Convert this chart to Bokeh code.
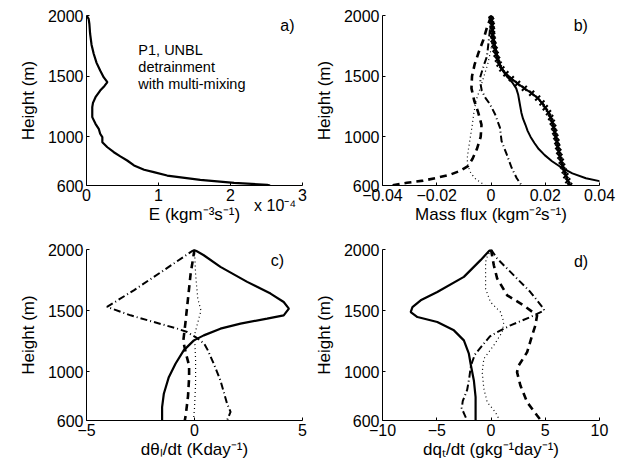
from bokeh.plotting import figure
from bokeh.models import Label, FixedTicker, Range1d, LinearAxis
from bokeh.layouts import gridplot
from bokeh.embed import file_html
from bokeh.resources import INLINE

# ---------------- data ----------------
# Panel a: entrainment rate E (units of 1e-4 kg m^-3 s^-1)
a_height = [2000, 1973, 1930, 1850, 1760, 1685, 1610, 1547, 1490, 1451, 1420, 1382, 1327, 1280,
            1245, 1200, 1163, 1108, 1067, 1026, 998, 957, 915, 874, 840, 806, 765, 730, 710, 682,
            647, 622, 606, 600]
a_E = [0.0, 0.03, 0.04, 0.05, 0.07, 0.10, 0.14, 0.19, 0.24, 0.29, 0.25, 0.19, 0.125, 0.09,
       0.08, 0.08, 0.08, 0.125, 0.17, 0.19, 0.22, 0.22, 0.29, 0.38, 0.47, 0.565, 0.66, 0.80, 0.935, 1.12,
       1.58, 2.05, 2.51, 2.55]

# Panel b: mass flux (kg m^-2 s^-1)
b_x_height = [2000, 1960, 1920, 1880, 1840, 1800, 1760, 1720, 1680, 1640, 1600, 1560, 1520, 1480,
              1440, 1400, 1360, 1320, 1280, 1240, 1200, 1160, 1120, 1080, 1040, 1000, 960, 920,
              880, 840, 800, 760, 720, 680, 640, 600]
b_x_flux = [0.0, 0.0002, 0.0004, 0.0005, 0.0006, 0.0008, 0.0011, 0.0015, 0.0019, 0.0024, 0.0030,
            0.0040, 0.0055, 0.0075, 0.0098, 0.0123, 0.0150, 0.0172, 0.0188, 0.0200, 0.0212, 0.0220,
            0.0226, 0.0231, 0.0235, 0.0239, 0.0243, 0.0246, 0.0250, 0.0254, 0.0259, 0.0264, 0.0270,
            0.0276, 0.0283, 0.0290]
b_solid_height = [2000, 1900, 1800, 1700, 1600, 1550, 1500, 1450, 1400, 1350, 1300, 1250, 1200, 1150,
                  1100, 1050, 1000, 950, 900, 850, 800, 750, 700, 660, 636, 600]
b_solid_flux = [0.0, 0.0005, 0.0010, 0.0020, 0.0032, 0.0042, 0.0058, 0.0078, 0.0093, 0.0100, 0.0104,
                0.0108, 0.0112, 0.0118, 0.0127, 0.0135, 0.0146, 0.0160, 0.0176, 0.0198, 0.0225,
                0.0258, 0.0300, 0.0350, 0.0400, 0.0460]
b_dash_height = [1990, 1900, 1800, 1700, 1600, 1500, 1400, 1300, 1200, 1100, 1000, 900, 820, 760,
                 720, 690, 663, 640, 622, 600]
b_dash_flux = [0.0, -0.0015, -0.0028, -0.0045, -0.0060, -0.0070, -0.0072, -0.0062, -0.0047, -0.0035,
               -0.0038, -0.0052, -0.0068, -0.0085, -0.0115, -0.0150, -0.0200, -0.0250, -0.0310, -0.0370]
b_dashdot_height = [2000, 1900, 1800, 1700, 1655, 1600, 1550, 1490, 1430, 1380, 1320, 1270, 1187,
                    1076, 966, 856, 746, 660, 600]
b_dashdot_flux = [0.0, -0.0003, -0.0008, -0.0013, -0.0016, -0.0025, -0.0032, -0.0040, -0.0038,
                  -0.0034, -0.0020, -0.0004, 0.0015, 0.0033, 0.0039, 0.0058, 0.0076, 0.0095, 0.0113]
b_dot_height = [2000, 1800, 1700, 1600, 1500, 1400, 1300, 1200, 1100, 1000, 900, 820, 760, 700, 650,
                620, 600]
b_dot_flux = [0.0, 0.0006, -0.0002, -0.0012, -0.0026, -0.0040, -0.0055, -0.0063, -0.0069, -0.0076,
              -0.0083, -0.0088, -0.0085, -0.0074, -0.0055, -0.0035, -0.0022]

# Panel c: d(theta_l)/dt (K day^-1)
c_solid_height = [2000, 1953, 1858, 1735, 1639, 1570, 1516, 1461, 1434, 1393, 1352, 1297, 1256, 1174,
                  1065, 955, 819, 709, 600]
c_solid = [-0.03, 0.43, 1.2, 2.44, 3.52, 4.13, 4.37, 4.13, 3.36, 2.13, 1.2, 0.43, -0.03, -0.5,
           -0.88, -1.19, -1.42, -1.5, -1.5]
c_dashdot_height = [2000, 1830, 1666, 1530, 1461, 1406, 1352, 1324, 1283, 1229, 1174, 1065, 928, 737,
                    670, 619, 600]
c_dashdot = [0.0, -1.42, -2.81, -4.05, -2.96, -1.88, -0.8, -0.34, 0.05, 0.45, 0.62, 0.89, 1.2, 1.51,
             1.67, 1.55, 1.5]
c_dash_height = [2000, 1800, 1600, 1400, 1250, 1150, 1050, 950, 800, 650, 600]
c_dash = [0.0, -0.18, -0.3, -0.42, -0.52, -0.4, -0.25, -0.25, -0.3, -0.4, -0.45]
c_dot_height = [2000, 1800, 1600, 1500, 1420, 1300, 1100, 900, 700, 600]
c_dot = [0.0, 0.05, 0.15, 0.3, 0.18, 0.0, 0.05, 0.05, 0.0, -0.05]

# Panel d: dq_t/dt (g kg^-1 day^-1)
d_solid_height = [2000, 1913, 1776, 1652, 1584, 1529, 1488, 1447, 1406, 1338, 1256, 1147, 1065, 928,
                  791, 655, 600]
d_solid = [-0.05, -0.96, -2.5, -4.95, -6.48, -7.24, -7.4, -6.78, -4.95, -3.42, -2.5, -2.04, -1.88,
           -1.58, -1.42, -1.42, -1.42]
d_dash_height = [2000, 1871, 1762, 1625, 1543, 1461, 1379, 1297, 1160, 1051, 996, 887, 750, 641, 600]
d_dash = [0.0, 0.26, 0.57, 1.49, 3.0, 4.25, 4.09, 3.79, 3.33, 2.56, 2.4, 2.71, 3.33, 4.25, 4.6]
d_dashdot_height = [2000, 1926, 1762, 1652, 1516, 1500, 1447, 1379, 1324, 1289, 1207, 1139, 1050, 950,
                    850, 760, 700, 640, 600]
d_dashdot = [0.0, 0.57, 2.4, 3.63, 4.85, 4.9, 3.63, 1.79, 0.57, -0.1, -0.87, -1.49, -1.85, -2.0,
             -2.2, -2.6, -2.7, -2.4, -2.2]
d_dot_height = [2000, 1940, 1898, 1680, 1570, 1488, 1406, 1324, 1215, 1106, 996, 860, 750, 668, 614, 600]
d_dot = [0.0, -0.35, -0.5, -0.5, -0.05, 0.87, 1.18, 1.03, 0.26, -0.66, -0.81, -0.66, -0.35, 0.41, 0.72, 0.75]

height_ticks = [600, 1000, 1500, 2000]
a_ticks = [0, 1, 2, 3]
a_multiplier = {2.62: "x 10\u207b\u2074"}
b_ticks = [-0.04, -0.02, 0, 0.02, 0.04]
b_tick_labels = {-0.04: "\u22120.04", -0.02: "\u22120.02", 0: "0", 0.02: "0.02", 0.04: "0.04"}
c_ticks = [-5, 0, 5]
c_tick_labels = {-5: "\u22125", 0: "0", 5: "5"}
d_ticks = [-10, -5, 0, 5, 10]
d_tick_labels = {-10: "\u221210", -5: "\u22125", 0: "0", 5: "5", 10: "10"}

FONT = "Liberation Sans"


def make_fig(xr, xticks, overrides, xlabel, left, right, top, bottom):
    p = figure(width=311, height=236, x_range=Range1d(*xr), y_range=Range1d(600, 2000),
               output_backend="svg", toolbar_location=None,
               min_border_left=left, min_border_right=right,
               min_border_top=top, min_border_bottom=bottom)
    p.outline_line_color = None
    p.xgrid.visible = False
    p.ygrid.visible = False
    p.xaxis.ticker = FixedTicker(ticks=xticks)
    p.yaxis.ticker = FixedTicker(ticks=height_ticks)
    if overrides:
        p.xaxis.major_label_overrides = overrides
    p.xaxis.axis_label = xlabel
    p.yaxis.axis_label = "Height (m)"
    for ax in (p.xaxis[0], p.yaxis[0]):
        ax.major_tick_in = 3
        ax.major_tick_out = 0
        ax.minor_tick_line_color = None
        ax.axis_line_color = "black"
        ax.major_tick_line_color = "black"
        ax.major_label_text_font = FONT
        ax.major_label_text_font_size = "16px"
        ax.major_label_text_color = "black"
        ax.axis_label_text_font = FONT
        ax.axis_label_text_font_size = "17px"
        ax.axis_label_text_font_style = "normal"
        ax.axis_label_text_color = "black"
    p.xaxis.major_label_standoff = 3
    p.xaxis.axis_label_standoff = 1
    p.yaxis.major_label_standoff = 3
    p.yaxis.axis_label_standoff = 7
    return p


def panel_label(p, x, y, text):
    p.add_layout(Label(x=x, y=y, text=text, text_font=FONT, text_font_size="16px",
                       text_align="center", text_baseline="middle", text_color="black"))


# ---- a ----
pa = make_fig((0, 3), a_ticks, None, "E (kgm\u207b\u00b3s\u207b\u00b9)", 86, 9, 15, 51)
pa.line(a_E, a_height, line_color="black", line_width=2.2)
panel_label(pa, 2.79, 1918, "a)")
for yy, t in zip([1712, 1572, 1440], ["P1, UNBL", "detrainment", "with multi-mixing"]):
    pa.add_layout(Label(x=0.72, y=yy, text=t, text_font=FONT, text_font_size="14.5px",
                        text_baseline="middle", text_color="black"))
# multiplier "x 10^-4" drawn as the only label of a second, line-less x axis
mult_axis = LinearAxis(ticker=FixedTicker(ticks=list(a_multiplier.keys())),
                       major_label_overrides=a_multiplier,
                       axis_line_color=None, major_tick_line_color=None,
                       minor_tick_line_color=None,
                       major_label_text_font=FONT, major_label_text_font_size="16px",
                       major_label_text_color="black", major_label_standoff=-36)
pa.add_layout(mult_axis, "below")

# ---- b ----
pb = make_fig((-0.04, 0.04), b_ticks, b_tick_labels, "Mass flux (kgm\u207b\u00b2s\u207b\u00b9)", 71, 23, 15, 51)
pb.line(b_solid_flux, b_solid_height, line_color="black", line_width=2)
pb.line(b_dash_flux, b_dash_height, line_color="black", line_width=2.6, line_dash="7 5")
pb.line(b_dashdot_flux, b_dashdot_height, line_color="black", line_width=2, line_dash="7 3 1 3")
pb.line(b_dot_flux, b_dot_height, line_color="black", line_width=1.2, line_dash="1 3")
pb.line(b_x_flux, b_x_height, line_color="black", line_width=2)
pb.scatter(b_x_flux, b_x_height, marker="x", size=7, line_color="black", line_width=2)
panel_label(pb, 0.0331, 1915, "b)")

# ---- c ----
pc = make_fig((-5, 5), c_ticks, c_tick_labels, "d\u03b8\u2097/dt (Kday\u207b\u00b9)", 86, 9, 13, 52)
pc.line(c_solid, c_solid_height, line_color="black", line_width=2.2)
pc.line(c_dash, c_dash_height, line_color="black", line_width=2.6, line_dash="7 5")
pc.line(c_dashdot, c_dashdot_height, line_color="black", line_width=2, line_dash="7 3 1 3")
pc.line(c_dot, c_dot_height, line_color="black", line_width=1.2, line_dash="1 3")
panel_label(pc, 3.84, 1912, "c)")

# ---- d ----
pd_ = make_fig((-10, 10), d_ticks, d_tick_labels, "dq\u209c/dt (gkg\u207b\u00b9day\u207b\u00b9)", 71, 23, 13, 52)
pd_.line(d_solid, d_solid_height, line_color="black", line_width=2.2)
pd_.line(d_dash, d_dash_height, line_color="black", line_width=2.6, line_dash="7 5")
pd_.line(d_dashdot, d_dashdot_height, line_color="black", line_width=2, line_dash="7 3 1 3")
pd_.line(d_dot, d_dot_height, line_color="black", line_width=1.2, line_dash="1 3")
panel_label(pd_, 8.3, 1904, "d)")

grid = gridplot([[pa, pb], [pc, pd_]], toolbar_location=None)

open("out.html", "w").write(file_html(grid, INLINE))
